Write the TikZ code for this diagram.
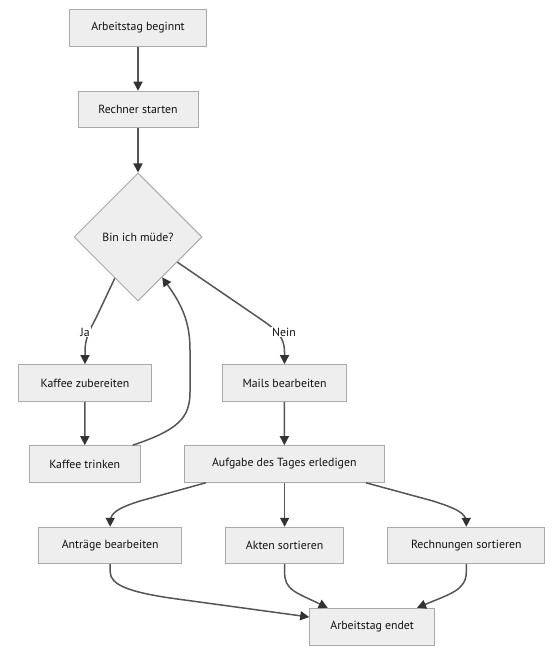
\documentclass[tikz,border=0pt]{standalone}
\usepackage{fontspec}
\setmainfont{PT Sans}
\usetikzlibrary{shapes.geometric,arrows.meta,calc}
\definecolor{boxfill}{HTML}{EEEEEE}
\definecolor{boxline}{HTML}{AAAAAA}
\definecolor{edgecol}{HTML}{555555}
\definecolor{tipcol}{HTML}{333333}
\definecolor{txtcol}{HTML}{111111}
\tikzset{
  box/.style={draw=boxline, fill=boxfill, line width=1pt, rectangle, inner sep=0pt,
    text=txtcol, font=\fontsize{11.8}{13}\selectfont},
  decision/.style={draw=boxline, fill=boxfill, line width=1pt, diamond, aspect=1,
    inner sep=0pt, minimum width=128pt, minimum height=128pt,
    text=txtcol, font=\fontsize{11.8}{13}\selectfont},
  flow/.style={draw=edgecol, line width=1.5pt,
    -{Triangle[length=9pt,width=9pt,fill=tipcol,color=tipcol]}},
  elabel/.style={fill=white, inner sep=1pt, text=txtcol, font=\fontsize{11.8}{13}\selectfont}
}
\begin{document}
\begin{tikzpicture}[x=1pt,y=-1pt]
\useasboundingbox (0,0) rectangle (554,655);
\node[box, minimum width=137pt, minimum height=36.5pt] (start) at (138,28) {Arbeitstag beginnt};
\node[box, minimum width=120pt, minimum height=36.5pt] (rech) at (138,109.5) {Rechner starten};
\node[decision] (dia) at (138,237) {Bin ich müde?};
\node[box, minimum width=133.7pt, minimum height=36.7pt] (kz) at (85,383) {Kaffee zubereiten};
\node[box, minimum width=124.4pt, minimum height=36.7pt] (mails) at (284.5,383) {Mails bearbeiten};
\node[box, minimum width=110.7pt, minimum height=36.6pt] (kt) at (84.7,464) {Kaffee trinken};
\node[box, minimum width=200pt, minimum height=36.6pt] (auf) at (284.3,464) {Aufgabe des Tages erledigen};
\node[box, minimum width=143pt, minimum height=36.4pt] (antr) at (110.2,545.5) {Anträge bearbeiten};
\node[box, minimum width=117.3pt, minimum height=36.4pt] (akten) at (284.6,545.5) {Akten sortieren};
\node[box, minimum width=156.7pt, minimum height=36.4pt] (rechn) at (466.3,545.5) {Rechnungen sortieren};
\node[box, minimum width=125pt, minimum height=37.4pt] (ende) at (372.2,627) {Arbeitstag endet};

\coordinate (djaout) at ($(dia.west)!0.64!(dia.south)$);
\coordinate (dneinout) at ($(dia.east)!0.39!(dia.south)$);
\coordinate (dloopin) at ($(dia.east)!0.625!(dia.south)$);
\coordinate (ktout) at ($(kt.north)+(48,0)$);
\coordinate (aufl) at ($(auf.south)+(-78.6,0)$);
\coordinate (aufr) at ($(auf.south)+(81.7,0)$);
\coordinate (endl) at ($(ende.west)+(0,-10)$);
\coordinate (endm) at ($(ende.north)+(-44.5,0)$);
\coordinate (endr) at ($(ende.north)+(44.8,0)$);

\draw[flow] (start) -- (rech);
\draw[flow] (rech) -- (dia);
\draw[flow] (djaout) -- (96,318) .. controls (88,333) and (85,340) .. (85,352) -- (kz.north);
\draw[flow] (dneinout) -- (262,320) .. controls (278,331) and (284.5,338) .. (284.5,352) -- (mails.north);
\node[elabel] (ja) at (85,332) {Ja};
\node[elabel] (nein) at (284,332) {Nein};
\draw[flow] (kz) -- (kt);
\draw[flow] (ktout) .. controls (178,430) and (190,418) .. (190,392) -- (190,350) .. controls (190,322) and (182,305) .. (dloopin);
\draw[flow] (mails) -- (auf);
\draw[flow] (aufl) -- (140,501) .. controls (118,508) and (110.2,513) .. (110.2,522) -- (antr.north);
\draw[flow] (auf.south -| akten.north) -- (akten.north);
\draw[flow] (aufr) -- (433,501) .. controls (455,508) and (466.3,513) .. (466.3,522) -- (rechn.north);
\draw[flow] (antr.south) -- (110.2,572) .. controls (110.2,585) and (130,592) .. (170,598) -- (endl);
\draw[flow] (akten.south) -- (284.6,572) .. controls (284.6,590) and (295,592) .. (endm);
\draw[flow] (rechn.south) -- (466.3,572) .. controls (466.3,590) and (450,594) .. (endr);
\end{tikzpicture}
\end{document}
